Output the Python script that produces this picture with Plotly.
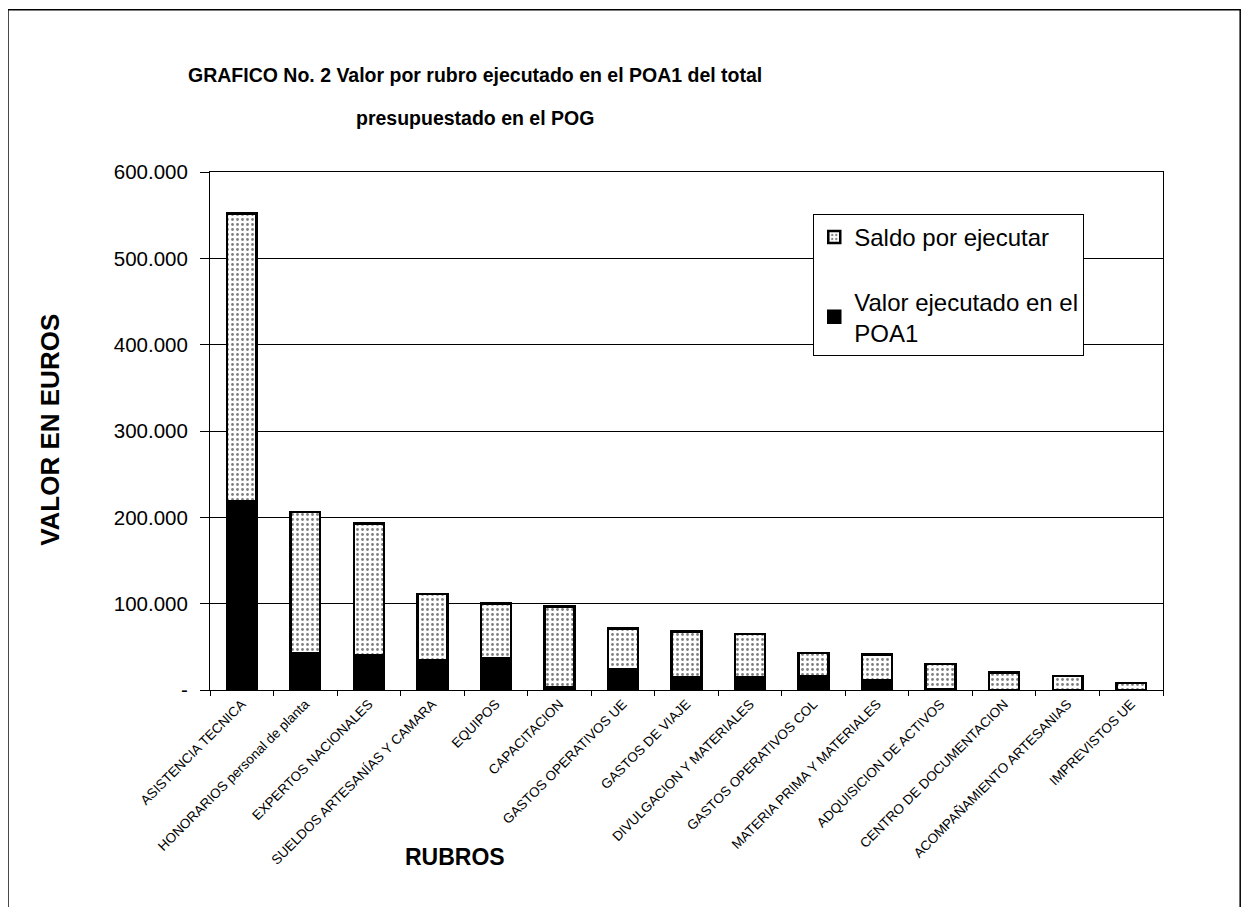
import plotly.graph_objects as go

categories = [
    "ASISTENCIA TECNICA", "HONORARIOS personal de planta", "EXPERTOS NACIONALES",
    "SUELDOS ARTESANÍAS Y CAMARA", "EQUIPOS", "CAPACITACION", "GASTOS OPERATIVOS UE",
    "GASTOS DE VIAJE", "DIVULGACION Y MATERIALES", "GASTOS OPERATIVOS COL",
    "MATERIA PRIMA Y MATERIALES", "ADQUISICION DE ACTIVOS", "CENTRO DE DOCUMENTACION",
    "ACOMPAÑAMIENTO ARTESANIAS", "IMPREVISTOS UE",
]
ejecutado = [219000, 43000, 40000, 35000, 37000, 3000, 24000, 15000, 15000, 16000, 11000, 1000, 0, 0, 0]
total = [552000, 206000, 193000, 111000, 100000, 97000, 71000, 68000, 65000, 43000, 41000, 30000, 20000, 16000, 8000]
saldo = [t - e for t, e in zip(total, ejecutado)]

y_ticks = [0, 100000, 200000, 300000, 400000, 500000, 600000]
y_ticktext = ["-", "100.000", "200.000", "300.000", "400.000", "500.000", "600.000"]

FONT = "Liberation Sans, Arial, sans-serif"

fig = go.Figure()
fig.add_trace(go.Bar(
    x=categories, y=ejecutado, name="Valor ejecutado en el<br>POA1",
    marker=dict(color="black", line=dict(color="black", width=2.5)),
    legendgroup="b", legendrank=2,
))
fig.add_trace(go.Bar(
    x=categories, y=saldo, name="Saldo por ejecutar",
    marker=dict(color="white", line=dict(color="black", width=2.5),
                pattern=dict(shape=".", fgcolor="black", bgcolor="white", size=5, solidity=0.25)),
    legendgroup="a", legendrank=1,
))

fig.update_layout(
    width=1241, height=899,
    barmode="stack", bargap=0.53,
    paper_bgcolor="white", plot_bgcolor="white",
    margin=dict(l=202, r=86, t=164, b=217),
    font=dict(family=FONT, color="black"),
    showlegend=True,
    legend=dict(
        x=0.633, y=0.919, xanchor="left", yanchor="top",
        bgcolor="white", bordercolor="black", borderwidth=1,
        font=dict(size=24, family=FONT), tracegroupgap=30,
        traceorder="grouped", itemwidth=30, entrywidth=290,
    ),
    xaxis=dict(
        tickangle=-45, tickfont=dict(size=13.5, family=FONT),
        ticks="outside", tickson="boundaries", ticklen=5, tickcolor="black",
        showline=True, linecolor="black", linewidth=1, mirror=True,
        showgrid=False,
    ),
    yaxis=dict(
        range=[0, 600000], tickvals=y_ticks, ticktext=y_ticktext,
        tickfont=dict(size=20.5, family=FONT),
        ticks="outside", ticklen=9, tickcolor="black", ticklabelstandoff=8,
        showline=True, linecolor="black", linewidth=1, mirror=True,
        showgrid=True, gridcolor="black", gridwidth=1, zeroline=False,
    ),
    annotations=[
        dict(text="<b>GRAFICO No. 2 Valor por rubro ejecutado en el POA1 del total</b>",
             xref="paper", yref="paper", x=0.278, y=1.187, showarrow=False,
             font=dict(size=19.5, family=FONT), xanchor="center", yanchor="middle"),
        dict(text="<b>presupuestado en el POG</b>",
             xref="paper", yref="paper", x=0.278, y=1.104, showarrow=False,
             font=dict(size=19.5, family=FONT), xanchor="center", yanchor="middle"),
        dict(text="<b>RUBROS</b>", xref="paper", yref="paper", x=0.257, y=-0.322,
             showarrow=False, font=dict(size=23, family=FONT), xanchor="center", yanchor="middle"),
        dict(text="<b>VALOR EN EUROS</b>", xref="paper", yref="paper", x=-0.168, y=0.502,
             showarrow=False, textangle=-90, font=dict(size=26, family=FONT),
             xanchor="center", yanchor="middle"),
    ],
    shapes=[
        dict(type="rect", xref="paper", yref="paper", x0=-0.212, x1=1.081, y0=-0.46, y1=1.313,
             line=dict(color="black", width=1.5), fillcolor="rgba(0,0,0,0)", layer="below"),
    ],
)

fig.write_html("out.html")
